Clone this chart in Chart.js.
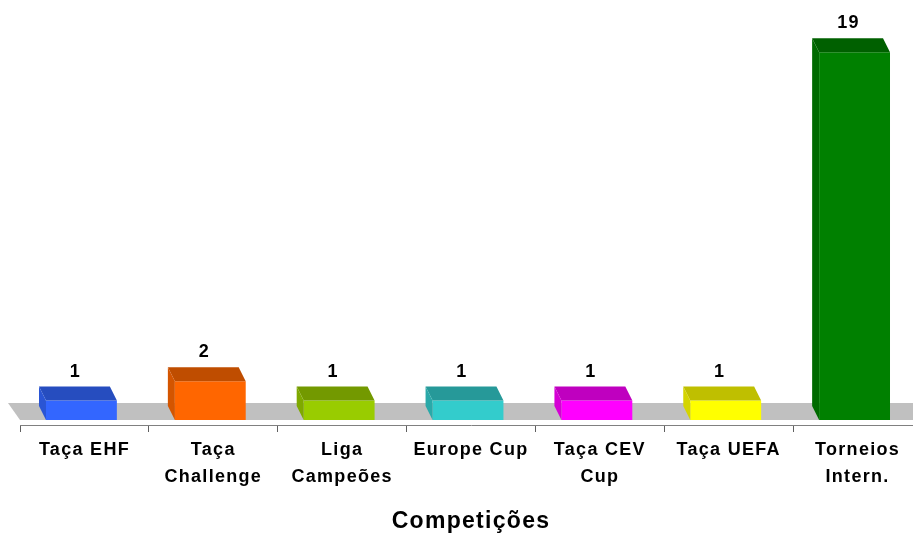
<!DOCTYPE html>
<html>
<head>
<meta charset="utf-8">
<script src="https://cdn.jsdelivr.net/npm/chart.js@4"></script>
<style>
  html, body { margin: 0; padding: 0; background: #fff; overflow: hidden; }
  #wrap { width: 922px; height: 533px; }
</style>
</head>
<body>
<div id="wrap"><canvas id="chart"></canvas></div>
<script>
// competitions and number of entries
const categories = [['Taça EHF'], ['Taça', 'Challenge'], ['Liga', 'Campeões'], ['Europe Cup'], ['Taça CEV', 'Cup'], ['Taça UEFA'], ['Torneios', 'Intern.']];
const wins = [1, 2, 1, 1, 1, 1, 19];
const barColors = ['#3366FF', '#FF6600', '#99CC00', '#33CCCC', '#FF00FF', '#FFFF00', '#008000'];

// darker tone for the top / side faces
function shade(hex, f) {
    const n = parseInt(hex.slice(1), 16);
    const r = Math.round(((n >> 16) & 255) * f);
    const g = Math.round(((n >> 8) & 255) * f);
    const b = Math.round((n & 255) * f);
    return 'rgb(' + r + ',' + g + ',' + b + ')';
}

const DX = -7, DY = -14;

const box3d = {
    id: 'box3d',
    beforeDraw(chart) {
        chart.ctx.letterSpacing = '1.3px';
    },
    beforeDatasetsDraw(chart) {
        // grey floor
        const ctx = chart.ctx;
        const area = chart.chartArea;
        const y0 = chart.scales.y.getPixelForValue(0);
        ctx.save();
        ctx.fillStyle = '#C0C0C0';
        ctx.beginPath();
        ctx.moveTo(area.left, y0);
        ctx.lineTo(area.left - 12, y0 - 17);
        ctx.lineTo(area.right + 20, y0 - 17);
        ctx.lineTo(area.right + 20, y0);
        ctx.closePath();
        ctx.fill();
        ctx.restore();
    },
    beforeDatasetDraw(chart) {
        chart.ctx.save();
        chart.ctx.translate(-3, 0);
    },
    afterDatasetDraw(chart, args) {
        const ctx = chart.ctx;
        const meta = args.meta;
        meta.data.forEach((bar, i) => {
            const p = bar.getProps(['x', 'y', 'base', 'width'], true);
            const l = p.x - p.width / 2, r = p.x + p.width / 2;
            const c = barColors[i];
            // top face
            ctx.fillStyle = shade(c, 0.75);
            ctx.beginPath();
            ctx.moveTo(l, p.y);
            ctx.lineTo(l + DX, p.y + DY);
            ctx.lineTo(r + DX, p.y + DY);
            ctx.lineTo(r, p.y);
            ctx.closePath();
            ctx.fill();
            // left face
            ctx.fillStyle = shade(c, 0.83);
            ctx.beginPath();
            ctx.moveTo(l, p.y);
            ctx.lineTo(l + DX, p.y + DY);
            ctx.lineTo(l + DX, p.base + DY);
            ctx.lineTo(l, p.base);
            ctx.closePath();
            ctx.fill();
            // value label
            ctx.fillStyle = '#000';
            ctx.font = 'bold 18px "Liberation Sans", Arial, sans-serif';
            ctx.textAlign = 'center';
            ctx.textBaseline = 'bottom';
            ctx.fillText(String(wins[i]), p.x + DX + 1, p.y + DY - 6);
        });
        ctx.restore();
    }
};

new Chart(document.getElementById('chart').getContext('2d'), {
    type: 'bar',
    data: {
        labels: categories,
        datasets: [{
            data: wins,
            base: 0,
            backgroundColor: barColors,
            borderWidth: 0,
            barPercentage: 0.55,
            categoryPercentage: 1
        }]
    },
    options: {
        responsive: true,
        maintainAspectRatio: false,
        animation: false,
        layout: { padding: { left: 20, right: 0, top: 33, bottom: 0 } },
        plugins: { legend: { display: false }, tooltip: { enabled: false } },
        scales: {
            x: {
                afterFit: s => { s.height = 108; },
                grid: { offset: true, drawOnChartArea: false, drawTicks: true, tickLength: 7, color: '#606060' },
                border: { color: '#808080', width: 1 },
                ticks: {
                    color: '#000',
                    padding: 5,
                    maxRotation: 0,
                    autoSkip: false,
                    font: { family: '"Liberation Sans", Arial, sans-serif', size: 18, weight: 'bold', lineHeight: 1.5 }
                },
                title: {
                    display: true,
                    text: 'Competições',
                    color: '#000',
                    padding: { top: 0, bottom: -2 },
                    font: { family: '"Liberation Sans", Arial, sans-serif', size: 23, weight: 'bold', lineHeight: 1.2 }
                }
            },
            y: {
                display: false,
                min: -0.26,
                max: 20
            }
        }
    },
    plugins: [box3d]
});
</script>
</body>
</html>
